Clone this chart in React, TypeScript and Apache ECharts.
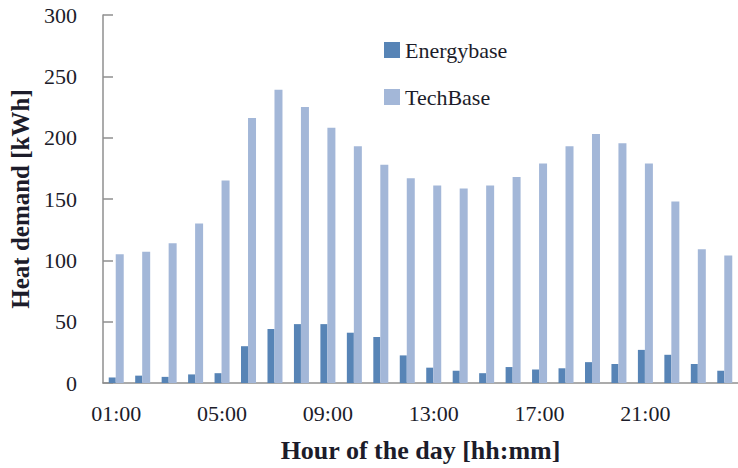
import React, { useEffect, useRef } from "react";
import * as echarts from "echarts";

const hours: string[] = [
  "01:00", "02:00", "03:00", "04:00", "05:00", "06:00", "07:00", "08:00",
  "09:00", "10:00", "11:00", "12:00", "13:00", "14:00", "15:00", "16:00",
  "17:00", "18:00", "19:00", "20:00", "21:00", "22:00", "23:00", "24:00",
];

const energybase: number[] = [
  4.5, 6, 5, 7, 8, 30, 44, 48, 48, 41, 37.5, 22.5,
  12.5, 10, 8, 13, 11, 12, 17, 15.5, 27, 23, 15.5, 10,
];

const techbase: number[] = [
  105, 107, 114, 130, 165, 216, 239, 225, 208, 193, 178, 167,
  161, 158.5, 161, 168, 179, 193, 203, 195.5, 179, 148, 109, 104,
];

const yTicks = { min: 0, max: 300, interval: 50 };

const FONT = "'Liberation Serif', 'Times New Roman', serif";
const TEXT = "#1c1c2a";
const AXIS = "#8f8f8f";

export default function App() {
  const ref = useRef<HTMLDivElement>(null);

  useEffect(() => {
    if (!ref.current) return;
    const chart = echarts.init(ref.current, undefined, { renderer: "svg" });
    chart.setOption({
      animation: false,
      backgroundColor: "#ffffff",
      textStyle: { fontFamily: FONT },
      legend: {
        orient: "vertical",
        left: 379,
        top: 34,
        itemWidth: 16,
        itemHeight: 16,
        itemGap: 25,
        icon: "rect",
        textStyle: { fontFamily: FONT, fontSize: 22, color: TEXT },
        data: ["Energybase", "TechBase"],
      },
      grid: { left: 103, top: 15, right: -7, bottom: 80, containLabel: false },
      xAxis: {
        type: "category",
        data: hours,
        name: "Hour of the day [hh:mm]",
        nameLocation: "middle",
        nameGap: 54,
        nameTextStyle: { fontFamily: FONT, fontSize: 26, fontWeight: "bold", color: TEXT },
        axisLine: { lineStyle: { color: AXIS, width: 1.5 } },
        axisTick: { inside: true, length: 10, lineStyle: { color: AXIS, width: 1.5 } },
        axisLabel: {
          interval: 3,
          margin: 19,
          fontFamily: FONT,
          fontSize: 22,
          color: TEXT,
        },
      },
      yAxis: {
        type: "value",
        min: yTicks.min,
        max: yTicks.max,
        interval: yTicks.interval,
        name: "Heat demand [kWh]",
        nameLocation: "middle",
        nameGap: 69,
        nameTextStyle: { fontFamily: FONT, fontSize: 25, fontWeight: "bold", color: TEXT },
        axisLine: { show: true, lineStyle: { color: AXIS, width: 1.5 } },
        axisTick: { show: true, inside: true, length: 10, lineStyle: { color: AXIS, width: 1.5 } },
        splitLine: { show: false },
        axisLabel: { margin: 26, fontFamily: FONT, fontSize: 22, color: TEXT },
      },
      series: [
        {
          name: "Energybase",
          type: "bar",
          data: energybase,
          barWidth: 7,
          barGap: 0,
          itemStyle: { color: "#5784b6" },
        },
        {
          name: "TechBase",
          type: "bar",
          data: techbase,
          barWidth: 8,
          itemStyle: { color: "#a3b7d8" },
        },
      ],
    });
    return () => chart.dispose();
  }, []);

  return (
    <div
      ref={ref}
      style={{ position: "fixed", left: 0, top: 0, width: 738, height: 468 }}
    />
  );
}
